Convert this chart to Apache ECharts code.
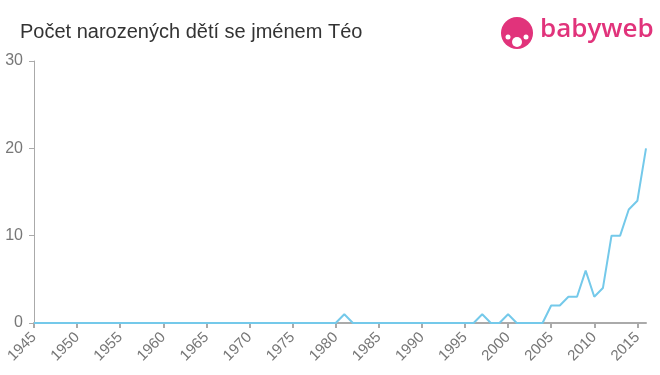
<!DOCTYPE html>
<html><head><meta charset="utf-8">
<script src="https://cdn.jsdelivr.net/npm/echarts@6/dist/echarts.min.js"></script>
<style>html,body{margin:0;padding:0;background:#fff}#c{width:660px;height:375px}</style>
</head><body><div id="c"></div>
<script>
var years = [];
for (var y = 1945; y <= 2016; y++) years.push(y);
var nonZero = {1981:1, 1997:1, 2000:1, 2005:2, 2006:2, 2007:3, 2008:3, 2009:6, 2010:3, 2011:4, 2012:10, 2013:10, 2014:13, 2015:14, 2016:20};
var counts = years.map(function(y){ return nonZero[y] || 0; });
var yTicks = [0, 10, 20, 30];
var title = "Počet narozených dětí se jménem Téo";

var chart = echarts.init(document.getElementById('c'));
chart.setOption({
  animation: false,
  title: {text: title, left: 15, top: 17, textStyle: {fontFamily: 'Liberation Sans, Arial', fontSize: 20, fontWeight: 'normal', color: '#333'}},
  grid: {left: 34, right: 14, top: 61, bottom: 52},
  xAxis: {
    type: 'value', min: 1945, max: 2016, interval: 5,
    axisLine: {lineStyle: {color: '#aaa', width: 2}},
    axisTick: {length: 5, lineStyle: {color: '#aaa', width: 2}},
    axisLabel: {rotate: 45, color: '#777', fontSize: 15, fontFamily: 'Liberation Sans, Arial', margin: 12, showMaxLabel: false,
      formatter: function(v){ return String(v); }},
    splitLine: {show: false}
  },
  yAxis: {
    type: 'value', min: 0, max: 30, interval: 10,
    axisLine: {show: true, lineStyle: {color: '#aaa', width: 1}},
    axisTick: {show: true, length: 5, lineStyle: {color: '#aaa'}},
    axisLabel: {color: '#777', fontSize: 16, fontFamily: 'Liberation Sans, Arial', margin: 11},
    splitLine: {show: false}
  },
  series: [{
    type: 'line', data: years.map(function(y,i){return [y, counts[i]];}),
    symbol: 'none', lineStyle: {color: '#74c9ea', width: 2}, z: 1
  }],
  graphic: [
    {type: 'circle', shape: {cx: 517, cy: 33, r: 16}, style: {fill: '#e1337b'}},
    {type: 'circle', shape: {cx: 517, cy: 42, r: 5}, style: {fill: '#fff'}},
    {type: 'circle', shape: {cx: 508, cy: 37, r: 2.5}, style: {fill: '#fff'}},
    {type: 'circle', shape: {cx: 526, cy: 37, r: 2.5}, style: {fill: '#fff'}},
    {type: 'text', left: 540, top: 17, style: {text: 'babyweb', fill: '#e1337b', font: '600 26px "Open Sans", Arial'}}
  ]
});
</script></body></html>
